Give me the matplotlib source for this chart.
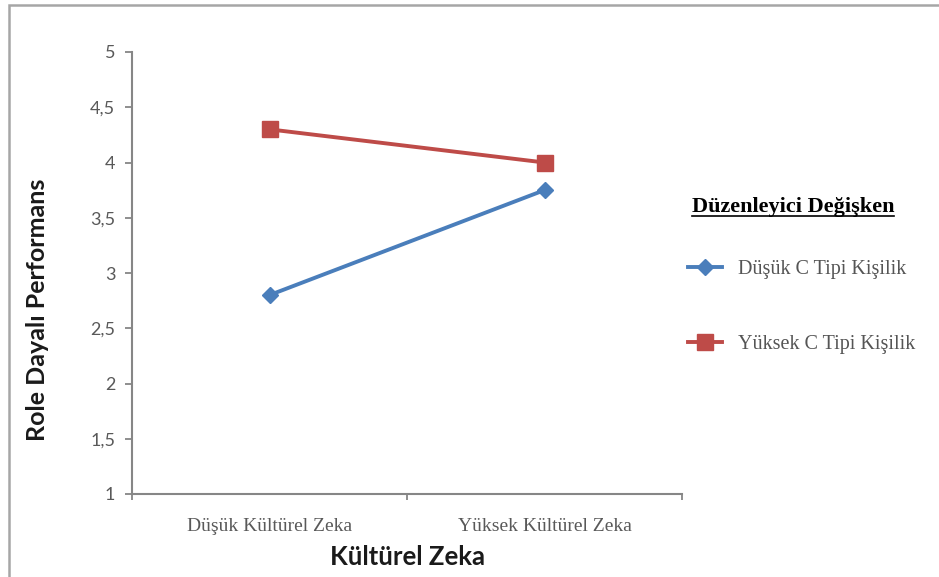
import matplotlib
matplotlib.use("Agg")
import matplotlib.pyplot as plt
from matplotlib.lines import Line2D
from matplotlib.patches import Rectangle

categories = ["Düşük Kültürel Zeka", "Yüksek Kültürel Zeka"]
low_c = [2.8, 3.75]
high_c = [4.3, 4.0]
series_labels = ["Düşük C Tipi Kişilik", "Yüksek C Tipi Kişilik"]
yticks = [1, 1.5, 2, 2.5, 3, 3.5, 4, 4.5, 5]
ytick_labels = ["1", "1,5", "2", "2,5", "3", "3,5", "4", "4,5", "5"]

W, H = 939, 577
fig = plt.figure(figsize=(W / 100, H / 100), dpi=100)
fig.patch.set_facecolor("white")

# outer border
fig.add_artist(Rectangle((9 / W, -0.01), 1.2, 1 - 5 / H + 0.01, transform=fig.transFigure,
                         fill=False, edgecolor="#a6a6a6", linewidth=1.8))

ax = fig.add_axes([132 / W, 1 - 494 / H, (682 - 132) / W, (494 - 52) / H])
x = list(range(len(categories)))
blue = "#4a7ebb"
red = "#be4b48"
ax.plot(x, low_c, color=blue, linewidth=2.8, marker="D", markersize=8, zorder=3)
ax.plot(x, high_c, color=red, linewidth=2.8, marker="s", markersize=11, zorder=3)

ax.set_xlim(-0.5, len(categories) - 0.5)
ax.set_ylim(1, 5)
ax.set_yticks(yticks)
ax.set_yticklabels(ytick_labels, fontfamily="Lato", fontsize=13, color="#595959")
ax.set_xticks(x)
ax.set_xticklabels(categories, fontfamily="Liberation Serif", fontsize=14, color="#595959")
ax.set_xticks([-0.5, 0.5, 1.5], minor=True)
ax.tick_params(axis="x", which="major", length=0, pad=17)
ax.tick_params(axis="x", which="minor", length=4, width=1.3, color="#868686")
ax.tick_params(axis="y", length=5, width=1.3, color="#868686", pad=7)
for s in ["top", "right"]:
    ax.spines[s].set_visible(False)
for s in ["left", "bottom"]:
    ax.spines[s].set_color("#868686")
    ax.spines[s].set_linewidth(1.5)

fig.text(38 / W, 1 - 310 / H, "Role Dayalı Performans", rotation=90, ha="center", va="center",
         fontfamily="Lato", fontweight="bold", fontsize=18, color="#1a1a1a")
fig.text(407 / W, 1 - 557 / H, "Kültürel Zeka", ha="center", va="center",
         fontfamily="Lato", fontweight="bold", fontsize=18.5, color="#1a1a1a")

# legend title with underline
tt = fig.text(793 / W, 1 - 207 / H, "Düzenleyici Değişken", ha="center", va="center",
              fontfamily="Liberation Serif", fontweight="bold", fontsize=16, color="#000000")
fig.canvas.draw()
bb = tt.get_window_extent(fig.canvas.get_renderer())
uy = bb.y0 + 1
fig.add_artist(Line2D([bb.x0 / W, bb.x1 / W], [uy / H, uy / H], transform=fig.transFigure,
                      color="black", linewidth=1.2))

handles = [Line2D([], [], color=blue, linewidth=2.8, marker="D", markersize=8),
           Line2D([], [], color=red, linewidth=2.8, marker="s", markersize=11)]
leg = fig.legend(handles, series_labels, loc="center left",
                 bbox_to_anchor=(670 / W, 1 - 307 / H), frameon=False,
                 prop={"family": "Liberation Serif", "size": 14.5},
                 labelspacing=2.75, handlelength=1.7, handletextpad=0.8)
for t in leg.get_texts():
    t.set_color("#555555")

fig.savefig("out.png", dpi=100)
